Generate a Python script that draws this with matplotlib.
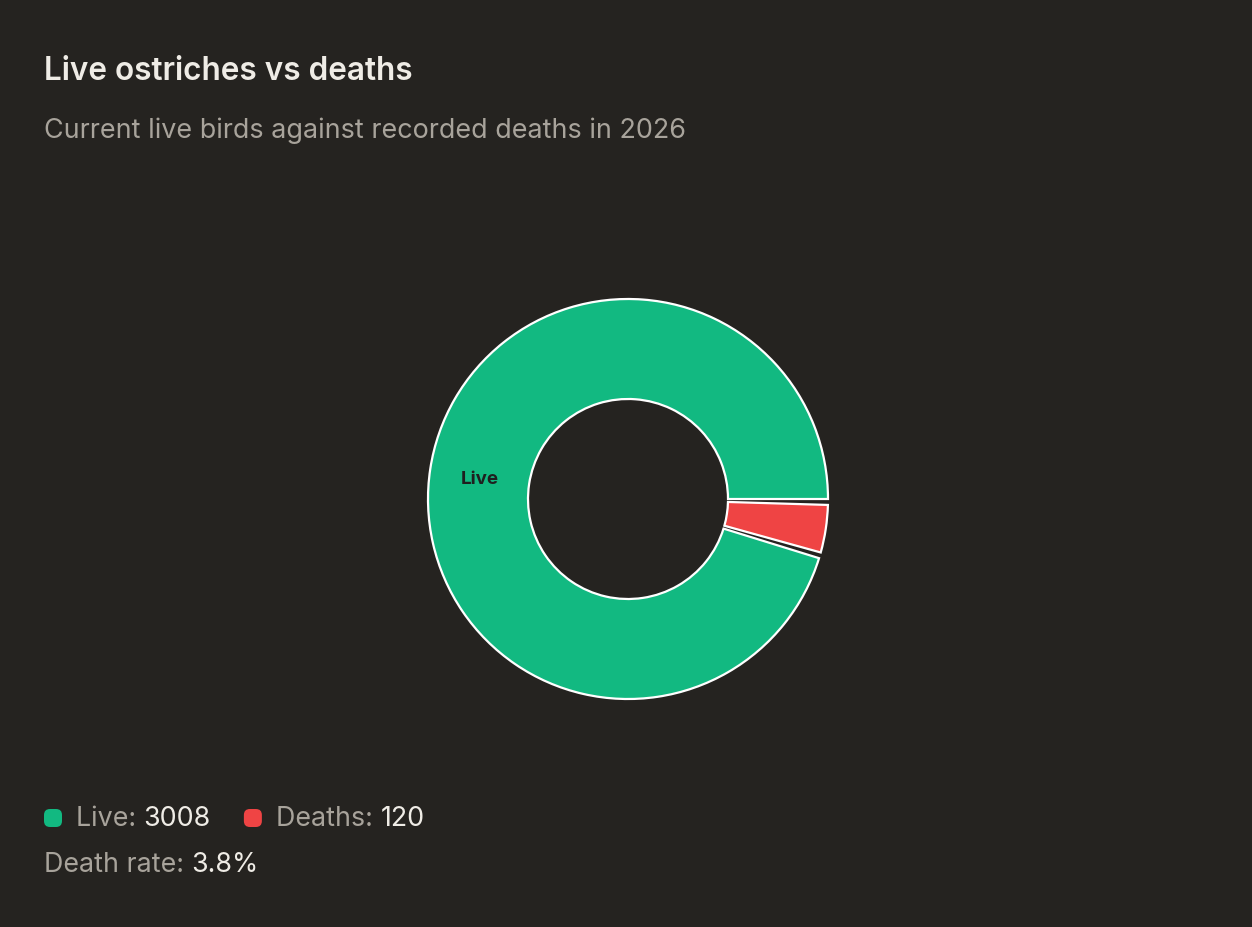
import numpy as np
import matplotlib
matplotlib.use("Agg")
import matplotlib.pyplot as plt
from matplotlib.patches import FancyBboxPatch

# ==========================================================
# DATOS
# ==========================================================

categorias = ["Live", "Deaths"]
valores = [3008, 120]
colores = ["#12b981", "#ef4444"]

titulo = "Live ostriches vs deaths"
subtitulo = "Current live birds against recorded deaths in 2026"

BG = "#252320"
GRIS = "#a8a39b"
BLANCO = "#efece6"

plt.rcParams["font.family"] = ["Inter", "DejaVu Sans"]

# ==========================================================
# FIGURA
# ==========================================================

W, H = 1252, 928
fig = plt.figure(figsize=(W / 100, H / 100), dpi=100, facecolor=BG)
ax = fig.add_axes([0, 0, 1, 1])
ax.set_facecolor(BG)
ax.axis("off")

cx, cy = 628, H - 500
R = 200

wedges, _ = ax.pie(
    valores,
    colors=colores,
    startangle=0,
    counterclock=True,
    radius=R,
    center=(cx, cy),
    wedgeprops=dict(width=R / 2, edgecolor="white", linewidth=1.6),
)
ax.set_xlim(0, W)
ax.set_ylim(0, H)
ax.set_aspect("equal")

# separación entre porciones (pad angle)
pad = 1.7
wedges[0].set_theta2(wedges[0].theta2 - 2 * pad)
wedges[1].set_theta1(wedges[1].theta1 - pad)
wedges[1].set_theta2(wedges[1].theta2 - pad)

# etiqueta dentro del anillo
w = wedges[0]
ang = np.deg2rad((w.theta1 + w.theta2) / 2)
ax.text(
    cx + 0.75 * R * np.cos(ang),
    cy + 0.75 * R * np.sin(ang) - 2,
    categorias[0],
    ha="center", va="center",
    fontsize=13.5, fontweight="bold", color="#1f1f1f",
)

# ==========================================================
# TEXTOS
# ==========================================================

fig.text(44 / W, 1 - 71 / H, titulo, fontsize=22.7, fontweight="semibold",
         color=BLANCO, va="center")
fig.text(44 / W, 1 - 131 / H, subtitulo, fontsize=19.4, color=GRIS, va="center")

# leyenda
total = sum(valores)
FS = 19.3
y_leg = H - 819
x = 44
for cat, val, col in zip(categorias, valores, colores):
    ax.add_patch(FancyBboxPatch((x, y_leg - 9), 18, 18,
                                boxstyle="round,pad=0,rounding_size=6",
                                facecolor=col, edgecolor="none"))
    t1 = ax.text(x + 32, y_leg, f"{cat}: ", fontsize=FS, color=GRIS, va="center")
    fig.canvas.draw()
    bb = t1.get_window_extent()
    t2 = ax.text(bb.x1, y_leg, str(val), fontsize=FS, color=BLANCO, va="center")
    fig.canvas.draw()
    x = t2.get_window_extent().x1 + 33

t3 = ax.text(44, H - 865, "Death rate: ", fontsize=FS, color=GRIS, va="center")
fig.canvas.draw()
ax.text(t3.get_window_extent().x1, H - 865, f"{valores[1] / total * 100:.1f}%",
        fontsize=FS, color=BLANCO, va="center")

fig.savefig("out.png", dpi=100, facecolor=BG)
